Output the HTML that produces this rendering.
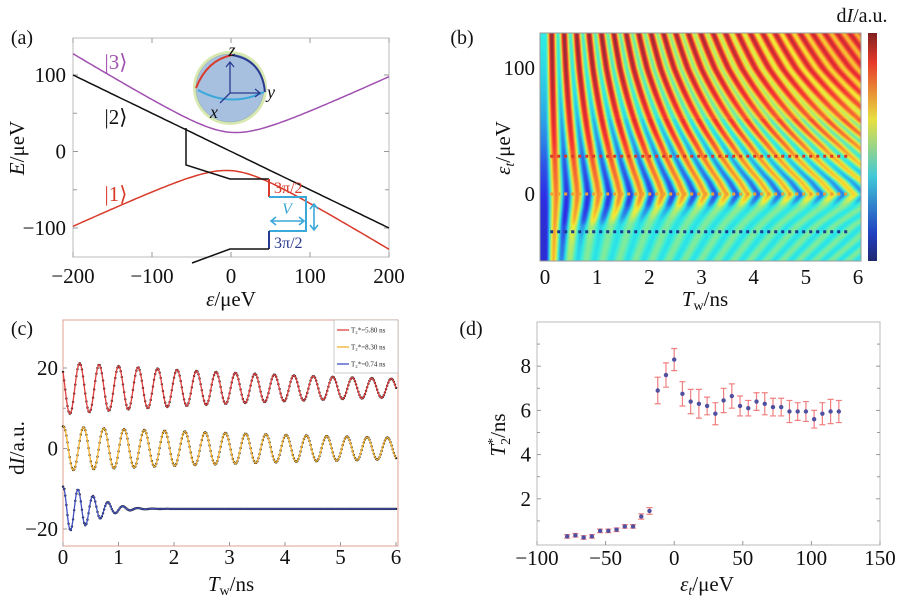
<!DOCTYPE html>
<html><head><meta charset="utf-8"><style>
html,body{margin:0;padding:0;background:#fff;}
#wrap{position:relative;width:906px;height:604px;overflow:hidden;font-family:"Liberation Serif",serif;}
svg{position:absolute;left:0;top:0;}
#hm{position:absolute;left:540px;top:33px;}
text{font-family:"Liberation Serif",serif;}
</style></head><body>
<div id="wrap">
<canvas id="hm" width="321" height="228"></canvas>
<svg id="s" width="906" height="604" viewBox="0 0 906 604"></svg>
</div>
<script>
// ---------- Panel (a) data ----------
const aLevels = ['|3⟩','|2⟩','|1⟩'];
const aXTicks = [-200,-100,0,100,200];
const aYTicks = [100,0,-100];
const aSlope = [-0.075,-0.5,-0.075];
const aCurv = [0.55,0,0.55];
const aGap = [25,0,25];
const aSign = [1,0,-1];
// ---------- Panel (b) data ----------
const bEps = [-53,-40,-25,-10,0,10,25,40,60,80,100,128];
const bFreq = [3.2,3.0,2.8,2.55,2.45,2.55,2.75,2.95,3.25,3.55,3.85,4.2];
const bT2 = [0.35,0.45,0.7,2.5,8,7,6,6,6,6,6,6];
const bBase = [0.42,0.42,0.42,0.43,0.45,0.47,0.5,0.55,0.6,0.64,0.67,0.7];
const bXTicks = [0,1,2,3,4,5,6];
const bYTicks = [100,0];
const bCuts = [30,0,-30];
// ---------- Panel (c) data ----------
const cNames = ['T2*=5.80 ns','T2*=8.30 ns','T2*=0.74 ns'];
const cT2 = [5.80,8.30,0.74];
const cOffset = [15,0,-15];
const cAmp = [6.5,5.5,5.5];
const cFreq = [2.85,2.74,3.7];
const cPeak = [0.3,0.37,0];
const cXTicks = [0,1,2,3,4,5,6];
const cYTicks = [20,0,-20];
// ---------- Panel (d) data ----------
const dX = [-78,-72,-66,-60,-54,-48,-42,-36,-30,-24,-18,-12,-6,0,6,12,18,24,30,36,42,48,54,60,66,72,78,84,90,96,102,108,114,120];
const dY = [0.3,0.35,0.25,0.3,0.55,0.55,0.6,0.75,0.75,1.2,1.45,6.9,7.6,8.3,6.75,6.4,6.3,6.2,5.85,6.45,6.65,6.2,6.1,6.4,6.3,6.15,6.15,5.95,5.95,5.95,5.6,5.85,5.95,5.95];
const dErr = [0.08,0.08,0.08,0.08,0.08,0.08,0.08,0.08,0.08,0.12,0.15,0.6,0.55,0.5,0.55,0.55,0.65,0.4,0.5,0.55,0.55,0.45,0.35,0.4,0.5,0.4,0.4,0.5,0.4,0.45,0.4,0.5,0.55,0.5];
const dXTicks = [-100,-50,0,50,100,150];
const dYTicks = [8,6,4,2];

const S = document.getElementById('s');
const NS = 'http://www.w3.org/2000/svg';
function mk(tag, at, parent){const e=document.createElementNS(NS,tag);for(const k in at)e.setAttribute(k,at[k]);(parent||S).appendChild(e);return e;}
function txt(x,y,str,size,anchor,fill,name){const t=mk('text',{x:x,y:y,'font-size':size,'text-anchor':anchor||'middle',fill:fill||'#111'});t.textContent=str;


return t;}
function rich(x,y,html,size,name,rot){const t=mk('text',{x:x,y:y,'font-size':size,'text-anchor':'middle',fill:'#111'});t.innerHTML=html;


if(rot)t.setAttribute('transform','translate('+rot[0]+','+rot[1]+') rotate(-90)');return t;}
function lin(d0,d1,p0,p1){return v=>p0+(v-d0)*(p1-p0)/(d1-d0);}
function box(x0,y0,x1,y1,col,name){const r=mk('rect',{x:x0,y:y0,width:x1-x0,height:y1-y0,fill:'none',stroke:col,'stroke-width':1});

}
function tick(x1,y1,x2,y2){const l=mk('line',{x1:x1,y1:y1,x2:x2,y2:y2,stroke:'#999','stroke-width':1});

}
function sq(v){return v*v;}
function lab(v){return v<0?'−'+(-v):String(v);}

// ===== Panel (a) =====
{
const X=lin(-200,200,73,389), Y=lin(100,-100,75,228);
box(73,38,389,257,'#bbb','plot-area-a');
aXTicks.forEach(v=>{tick(X(v),257,X(v),252);tick(X(v),38,X(v),43);txt(X(v),283,lab(v),21,'middle','#111','x-tick-a');});
aYTicks.forEach(v=>{tick(73,Y(v),78,Y(v));tick(389,Y(v),384,Y(v));txt(66,Y(v)+7,lab(v),21,'end','#111','y-tick-a');});
[50,-50].forEach(v=>{tick(73,Y(v),77,Y(v));tick(389,Y(v),385,Y(v));});
const cols=['#a050b0','#111','#d83a2a'];
aLevels.forEach((n,i)=>{let d='';for(let e=-200;e<=200;e+=4){const E=aSlope[i]*e+aSign[i]*Math.sqrt(sq(aCurv[i]*e)+sq(aGap[i]));d+=(e===-200?'M':'L')+X(e).toFixed(1)+','+Y(E).toFixed(1);}
const p=mk('path',{d:d,fill:'none',stroke:cols[i],'stroke-width':1.5});

});
txt(116,69,'|3⟩',21,'middle','#a050b0','label-level-3');
txt(116,124,'|2⟩',21,'middle','#111','label-level-2');
txt(116,201,'|1⟩',21,'middle','#d83a2a','label-level-1');
const pb=mk('path',{d:'M186,128 L186,165 L230,179 L269,179',fill:'none',stroke:'#111','stroke-width':1.5});


mk('path',{d:'M269,179 L269,197',fill:'none',stroke:'#d83a2a','stroke-width':2});
mk('path',{d:'M269,197 L306,197 L306,231 L269,231',fill:'none',stroke:'#3aa8d8','stroke-width':2});
mk('path',{d:'M269,231 L269,249',fill:'none',stroke:'#2a3a90','stroke-width':2});
mk('path',{d:'M269,249 L230,249 L192,263',fill:'none',stroke:'#111','stroke-width':1.5});
txt(274,193,'3π/2',16,'start','#d83a2a','label-3pi2-red');
txt(274,248,'3π/2',16,'start','#2a3a90','label-3pi2-blue');
mk('path',{d:'M271,221 L304,221 M276,217 L271,221 L276,225 M299,217 L304,221 L299,225 M314,204 L314,230 M310,209 L314,204 L318,209 M310,225 L314,230 L318,225',fill:'none',stroke:'#3aa8d8','stroke-width':1.6});
const vt=txt(287,214,'V',16,'middle','#3aa8d8','label-vt');vt.setAttribute('font-style','italic');
const g=mk('g',{});
mk('circle',{cx:230,cy:88,r:37,fill:'#d8e8b0'},g);
mk('circle',{cx:230,cy:88,r:34,fill:'#a8c0e0',stroke:'#8aa','stroke-width':0.5},g);
mk('path',{d:'M198,90 Q230,108 264,92',fill:'none',stroke:'#3aa8d8','stroke-width':2},g);
mk('path',{d:'M232,55 Q207,60 196,88',fill:'none',stroke:'#d83a2a','stroke-width':2},g);
mk('path',{d:'M232,55 Q262,60 265,92',fill:'none',stroke:'#2a3a90','stroke-width':2},g);
mk('path',{d:'M230,93 L230,62 M226,67 L230,62 L234,67 M230,93 L260,93 M255,89 L260,93 L255,97 M230,93 L220,103',fill:'none',stroke:'#2a3a90','stroke-width':1.3},g);
txt(232,56,'z',18,'middle','#111','axis-z').setAttribute('font-style','italic');
txt(271,98,'y',18,'middle','#111','axis-y').setAttribute('font-style','italic');
txt(214,118,'x',18,'middle','#111','axis-x').setAttribute('font-style','italic');
txt(22,44,'(a)',20,'middle','#111','panel-label-a');
rich(231,306,'<tspan font-style="italic">ε</tspan>/μeV',21,'x-axis-title-a');
rich(0,0,'<tspan font-style="italic">E</tspan>/μeV',21,'y-axis-title-a',[24,148]);
}

// ===== Panel (b) =====
{
const X=lin(0,6,545,858),Y=lin(100,0,68,194);
try{
const cv=document.getElementById('hm'),ctx=cv.getContext('2d');
const W=321,H=228;const img=ctx.createImageData(W,H);
const TX=lin(0,6,545-540,858-540), EY=lin(100,0,68-33,194-33);
const jet=function(v){v=Math.max(0,Math.min(1,v));const r=Math.max(0,Math.min(1,1.5-Math.abs(4*v-3))),g=Math.max(0,Math.min(1,1.5-Math.abs(4*v-2))),b=Math.max(0,Math.min(1,1.5-Math.abs(4*v-1)));return[r*200+45,g*190+45,b*180+50];};
const interp=function(arr,e){if(e<=bEps[0])return arr[0];for(let i=1;i<bEps.length;i++){if(e<=bEps[i]){const t=(e-bEps[i-1])/(bEps[i]-bEps[i-1]);return arr[i-1]+t*(arr[i]-arr[i-1]);}}return arr[arr.length-1];};
for(let py=0;py<H;py++){const e=100-(py-EY(100))*100/(EY(0)-EY(100));const f=interp(bFreq,e),t2=interp(bT2,e),b=interp(bBase,e);
for(let px=0;px<W;px++){const T=Math.max((px-TX(0))*6/(TX(6)-TX(0)),0);const env=Math.exp(-sq(T/t2));
const c=Math.cos(2*Math.PI*f*T);
const up=e>10?Math.min(1,(e-10)/80)*0.12*(T/6):0;
const amp=0.06+0.26*env*(e>60?1-0.4*T/6:1);
const v=b+up-amp*c;
const col=jet(v);const k=(py*W+px)*4;img.data[k]=col[0];img.data[k+1]=col[1];img.data[k+2]=col[2];img.data[k+3]=255;}}
ctx.putImageData(img,0,0);
}catch(err){}
box(540,33,861,261,'#999','plot-area-b');
bXTicks.forEach(v=>txt(X(v),284,String(v),21,'middle','#111','x-tick-b'));
bYTicks.forEach(v=>txt(535,Y(v)+7,String(v),21,'end','#111','y-tick-b'));
const cc=['#d83a2a','#f0a030','#1a3a90'];
bCuts.forEach((v,i)=>{const l=mk('line',{x1:X(0.1),x2:X(5.85),y1:Y(v),y2:Y(v),stroke:cc[i],'stroke-width':3,'stroke-dasharray':'3,4'});

});
const defs=mk('defs',{});const lg=mk('linearGradient',{id:'jetg',x1:0,y1:1,x2:0,y2:0},defs);
[['0','#202870'],['0.12','#2040c0'],['0.37','#40c8d8'],['0.62','#e8e040'],['0.87','#e83a2a'],['1','#802020']].forEach(s=>mk('stop',{offset:s[0],'stop-color':s[1]},lg));
const cb=mk('rect',{x:868,y:33,width:9,height:228,fill:'url(#jetg)'});


rich(862,22,'d<tspan font-style="italic">I</tspan>/a.u.',20,'colorbar-title');
txt(462,44,'(b)',20,'middle','#111','panel-label-b');
rich(705,306,'<tspan font-style="italic">T</tspan><tspan font-size="14" dy="4">w</tspan><tspan dy="-4">/ns</tspan>',21,'x-axis-title-b');
rich(0,0,'<tspan font-style="italic">ε<tspan font-size="14" dy="4">t</tspan></tspan><tspan dy="-4">/μeV</tspan>',21,'y-axis-title-b',[510,148]);
}

// ===== Panel (c) =====
{
const X=lin(0,6,63,396),Y=lin(20,-20,368,529);
box(63,320,398,546,'#e0a090','plot-area-c');
cXTicks.forEach(v=>{tick(X(v),546,X(v),542);txt(X(v),564,String(v),21,'middle','#111','x-tick-c');});
cYTicks.forEach(v=>{tick(63,Y(v),67,Y(v));txt(58,Y(v)+7,lab(v),21,'end','#111','y-tick-c');});
[10,-10].forEach(v=>tick(63,Y(v),66,Y(v)));
const cols=['#e04040','#f0b030','#4050c0'];
cNames.forEach((n,i)=>{let d='',dots='';for(let k=0;k<=600;k++){const t=k*0.01;const env=i===2?Math.exp(-sq(t/cT2[i])):Math.exp(-t/cT2[i]);
const v=cOffset[i]+cAmp[i]*env*Math.cos(2*Math.PI*cFreq[i]*(t-cPeak[i]));d+=(k?'L':'M')+X(t).toFixed(1)+','+Y(v).toFixed(1);
if(k%2===0)dots+='M'+X(t).toFixed(1)+','+Y(v).toFixed(1)+'h0.1';}
const dp=mk('path',{d:dots,fill:'none',stroke:'#222','stroke-width':2.4,'stroke-linecap':'round'});


const p=mk('path',{d:d,fill:'none',stroke:cols[i],'stroke-width':1.3});

});
const lgb=mk('rect',{x:334,y:320,width:64,height:53,fill:'#fff',stroke:'#aaa','stroke-width':0.6});


cNames.forEach((n,i)=>{const y=330+i*17;mk('line',{x1:337,x2:349,y1:y,y2:y,stroke:cols[i],'stroke-width':1.3});
txt(351,y+2.5,n.replace('T2*','T₂*'),7,'start','#222','legend-entry');});
txt(22,335,'(c)',20,'middle','#111','panel-label-c');
rich(231,591,'<tspan font-style="italic">T</tspan><tspan font-size="14" dy="4">w</tspan><tspan dy="-4">/ns</tspan>',21,'x-axis-title-c');
rich(0,0,'d<tspan font-style="italic">I</tspan>/a.u.',21,'y-axis-title-c',[24,448]);
}

// ===== Panel (d) =====
{
const X=lin(-100,150,537,880),Y=lin(0,10,543,322);
box(537,322,880,545,'#bbb','plot-area-d');
dXTicks.forEach(v=>{tick(X(v),545,X(v),541);txt(X(v),565,lab(v),21,'middle','#111','x-tick-d');});
dYTicks.forEach(v=>{tick(537,Y(v),541,Y(v));tick(880,Y(v),876,Y(v));txt(531,Y(v)+7,String(v),21,'end','#111','y-tick-d');});
[1,3,5,7,9].forEach(v=>{tick(537,Y(v),540,Y(v));tick(880,Y(v),877,Y(v));});
dX.forEach((x,i)=>{const cx=X(x),y0=Y(dY[i]-dErr[i]),y1=Y(dY[i]+dErr[i]);
const e=mk('path',{d:'M'+cx+','+y0+'V'+y1+'M'+(cx-3)+','+y0+'h6M'+(cx-3)+','+y1+'h6',fill:'none',stroke:'#f08080','stroke-width':1.2});


const c=mk('circle',{cx:cx,cy:Y(dY[i]),r:2.2,fill:'#5050a0'});

});
txt(471,335,'(d)',20,'middle','#111','panel-label-d');
rich(707,591,'<tspan font-style="italic">ε<tspan font-size="14" dy="4">t</tspan></tspan><tspan dy="-4">/μeV</tspan>',21,'x-axis-title-d');
rich(0,0,'<tspan font-style="italic">T</tspan><tspan font-size="14" dy="-8">*</tspan><tspan font-size="14" dx="-7" dy="13">2</tspan><tspan dy="-5">/ns</tspan>',21,'y-axis-title-d',[505,435]);
}
</script>
</body></html>
